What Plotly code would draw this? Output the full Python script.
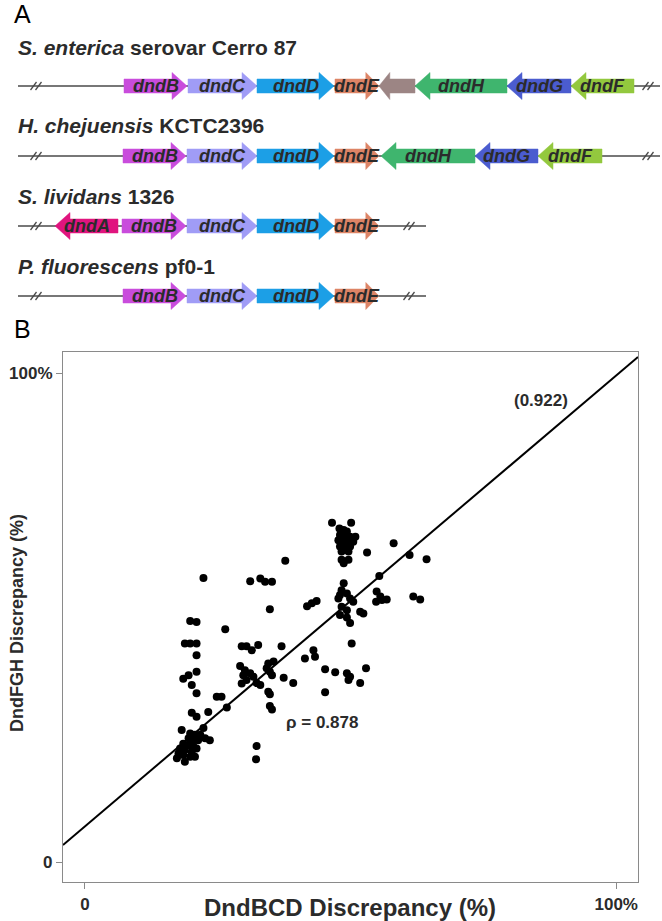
import plotly.graph_objects as go

# ---------------- Panel A data (gene schematic) ----------------
species_titles = [
    "<i>S. enterica</i> serovar Cerro 87",
    "<i>H. chejuensis</i> KCTC2396",
    "<i>S. lividans</i> 1326",
    "<i>P. fluorescens</i> pf0-1",
]
# genomic line extent and break marks (schematic units)
line_start = [18, 18, 18, 18]
line_end = [660, 660, 426, 426]
break_marks = [[36, 648], [36, 648], [36, 409], [36, 409]]

row0_genes = ["dndB", "dndC", "dndD", "dndE", "", "dndH", "dndG", "dndF"]
row0_start = [124, 188, 257, 335, 379, 415, 507, 571]
row0_end = [187, 257, 334, 379, 415, 507, 571, 634]
row0_strand = [1, 1, 1, 1, -1, -1, -1, -1]

row1_genes = ["dndB", "dndC", "dndD", "dndE", "dndH", "dndG", "dndF"]
row1_start = [123, 187, 257, 335, 381, 475, 538]
row1_end = [186, 257, 334, 379, 475, 538, 602]
row1_strand = [1, 1, 1, 1, -1, -1, -1]

row2_genes = ["dndA", "dndB", "dndC", "dndD", "dndE"]
row2_start = [55, 122, 187, 257, 335]
row2_end = [118, 186, 257, 334, 379]
row2_strand = [-1, 1, 1, 1, 1]

row3_genes = ["dndB", "dndC", "dndD", "dndE"]
row3_start = [123, 187, 257, 335]
row3_end = [186, 257, 334, 379]
row3_strand = [1, 1, 1, 1]

gene_colors = {
    "dndA": "#E0147F",
    "dndB": "#C94CDC",
    "dndC": "#A09CF6",
    "dndD": "#1C9FE6",
    "dndE": "#DD8466",
    "": "#9C8584",
    "dndH": "#3FB56E",
    "dndG": "#4B5CCF",
    "dndF": "#93C83E",
}

# ---------------- Panel B data (scatter) ----------------
dndbcd = [46.5, 50.1, 47.9, 48.7, 49.3, 48.0, 49.0, 49.9, 50.9, 47.7, 48.7, 49.6, 50.5,
          48.0, 49.0, 49.9, 48.3, 49.6, 48.3, 49.6, 48.7, 53.1, 58.1, 61.1, 64.3, 37.7,
          22.3, 31.1, 33.0, 33.9, 35.2, 55.4, 48.7, 48.3, 48.0, 49.3, 49.9, 47.7, 54.9,
          55.6, 55.9, 56.8, 54.8, 61.8, 63.1, 43.6, 42.7, 41.8, 34.8, 50.5, 48.3, 49.3,
          51.8, 52.4, 48.0, 49.3, 49.9, 19.8, 21.0, 26.4, 18.8, 19.8, 21.0, 29.5, 30.4,
          31.4, 32.6, 37.0, 50.2, 21.0, 41.4, 43.0, 43.3, 29.2, 30.1, 31.1, 29.8, 30.4,
          29.5, 31.7, 32.3, 33.0, 34.5, 35.5, 34.2, 34.8, 35.2, 37.4, 39.2, 45.2, 47.1,
          49.3, 49.9, 49.6, 51.8, 52.9, 18.5, 19.5, 21.0, 20.1, 21.0, 24.8, 25.7, 34.5,
          34.8, 45.2, 26.7, 34.8, 35.2, 20.1, 21.0, 23.2, 18.2, 22.3, 19.8, 20.7, 21.7,
          19.5, 20.4, 21.3, 22.6, 23.5, 18.5, 19.5, 20.4, 17.9, 18.8, 20.1, 21.0, 17.6,
          18.5, 19.8, 17.3, 20.7, 18.8, 32.3, 32.2]
dndfgh = [69.4, 69.4, 68.2, 67.9, 67.6, 66.9, 66.5, 66.5, 66.5, 65.8, 65.5, 65.5, 65.5,
          64.5, 64.5, 64.5, 63.5, 63.5, 61.8, 61.8, 61.1, 63.3, 65.2, 62.8, 61.9, 61.6,
          58.1, 57.4, 58.0, 57.3, 57.3, 58.5, 57.0, 55.6, 54.6, 54.9, 53.9, 53.9, 55.3,
          54.3, 53.6, 53.7, 53.2, 54.3, 53.7, 53.4, 52.9, 52.3, 51.7, 53.2, 52.2, 51.5,
          51.2, 50.8, 50.5, 50.0, 48.9, 49.3, 49.1, 47.6, 44.7, 44.7, 44.7, 44.1, 44.1,
          43.3, 44.4, 44.1, 44.7, 42.3, 41.6, 43.3, 42.0, 40.1, 39.2, 38.6, 38.2, 37.2,
          36.5, 37.9, 36.6, 36.2, 40.6, 41.0, 39.6, 38.9, 38.2, 37.7, 36.6, 39.4, 38.8,
          38.6, 37.9, 37.2, 36.6, 39.6, 37.5, 38.2, 38.9, 36.2, 34.5, 33.8, 33.8, 34.8,
          34.3, 34.7, 31.6, 31.9, 31.2, 30.5, 29.7, 30.7, 27.0, 27.4, 26.3, 26.0, 26.0,
          25.3, 24.9, 24.9, 25.3, 24.9, 24.2, 23.9, 23.6, 23.2, 22.9, 22.5, 23.2, 22.2,
          21.9, 21.5, 21.2, 21.5, 20.5, 23.7, 21.0]
fit_slope = 0.922
fit_intercept = 7.3
rho_text = "ρ = 0.878"
slope_text = "(0.922)"
x_tick_vals = [0, 100]
x_tick_text = ["0", "100%"]
y_tick_vals = [0, 100]
y_tick_text = ["0", "100%"]
x_title = "DndBCD Discrepancy (%)"
y_title = "DndFGH Discrepancy (%)"

# ---------------- layout constants ----------------
W, H = 662, 921
FONT = "Liberation Sans, Arial, sans-serif"
TXT = "#2b2b2b"
ROW_Y = [86, 156, 226, 296]
TITLE_Y = [47, 125, 196, 266]
BODY_H = 7
HEAD_H = 13.5
X_RANGE = [-4.14, 104.1]
Y_RANGE = [-4.09, 104.3]
PB_LEFT, PB_RIGHT, PB_BOTTOM, PB_TOP = 63, 638, 882, 352

fig = go.Figure()

rows = [
    (row0_genes, row0_start, row0_end, row0_strand),
    (row1_genes, row1_start, row1_end, row1_strand),
    (row2_genes, row2_start, row2_end, row2_strand),
    (row3_genes, row3_start, row3_end, row3_strand),
]

annotations = []
for i, (names, starts, ends, strands) in enumerate(rows):
    yc = ROW_Y[i]
    # backbone line
    fig.add_trace(go.Scatter(x=[line_start[i], line_end[i]], y=[yc, yc], mode="lines",
                             line=dict(color="#4a4a4a", width=1.5), xaxis="x2", yaxis="y2",
                             hoverinfo="skip", showlegend=False))
    # break marks
    for b in break_marks[i]:
        for off in (-2.5, 2.5):
            fig.add_trace(go.Scatter(x=[b + off - 3, b + off + 3], y=[yc + 4, yc - 4], mode="lines",
                                     line=dict(color="#4a4a4a", width=1.3), xaxis="x2", yaxis="y2",
                                     hoverinfo="skip", showlegend=False))
    # gene arrows
    for n, s, e, st in zip(names, starts, ends, strands):
        L = e - s
        hl = min(15, 0.3 * L)
        if st > 0:
            xs = [s, e - hl, e - hl, e, e - hl, e - hl, s, s]
        else:
            xs = [e, s + hl, s + hl, s, s + hl, s + hl, e, e]
        ys = [yc - BODY_H, yc - BODY_H, yc - HEAD_H, yc, yc + HEAD_H, yc + BODY_H, yc + BODY_H, yc - BODY_H]
        fig.add_trace(go.Scatter(x=xs, y=ys, mode="lines", fill="toself",
                                 fillcolor=gene_colors[n], line=dict(color=gene_colors[n], width=0.5),
                                 xaxis="x2", yaxis="y2", hoverinfo="skip", showlegend=False))
        if n:
            annotations.append(dict(x=(s + e) / 2, y=yc, xref="x2", yref="y2", text=f"<i>{n}</i>",
                                    showarrow=False, xanchor="center", yanchor="middle",
                                    font=dict(family=FONT, size=18, color=TXT, weight="bold")))
    annotations.append(dict(x=16, y=TITLE_Y[i], xref="x2", yref="y2", text=species_titles[i],
                            showarrow=False, xanchor="left", yanchor="middle",
                            font=dict(family=FONT, size=21, color=TXT, weight="bold")))

# ---------------- Panel B ----------------
fig.add_trace(go.Scatter(x=X_RANGE, y=[fit_intercept + fit_slope * v for v in X_RANGE], mode="lines",
                         line=dict(color="black", width=2), showlegend=False, hoverinfo="skip",
                         cliponaxis=True))
fig.add_trace(go.Scatter(x=dndbcd, y=dndfgh, mode="markers",
                         marker=dict(color="black", size=8), showlegend=False))

annotations += [
    dict(x=22, y=14, xref="x2", yref="y2", text="A", showarrow=False, xanchor="center", yanchor="middle",
         font=dict(family=FONT, size=25, color="black")),
    dict(x=22, y=329, xref="x2", yref="y2", text="B", showarrow=False, xanchor="center", yanchor="middle",
         font=dict(family=FONT, size=25, color="black")),
    dict(x=541 / W, y=1 - 400 / H, xref="paper", yref="paper", text=slope_text, showarrow=False,
         xanchor="center", yanchor="middle", font=dict(family=FONT, size=17, color=TXT, weight="bold")),
    dict(x=322 / W, y=1 - 722 / H, xref="paper", yref="paper", text=rho_text, showarrow=False,
         xanchor="center", yanchor="middle", font=dict(family=FONT, size=17, color=TXT, weight="bold")),
    dict(x=350 / W, y=1 - 907 / H, xref="paper", yref="paper", text=x_title, showarrow=False,
         xanchor="center", yanchor="middle", font=dict(family=FONT, size=24, color=TXT, weight="bold")),
    dict(x=17 / W, y=1 - 623 / H, xref="paper", yref="paper", text=y_title, showarrow=False, textangle=-90,
         xanchor="center", yanchor="middle", font=dict(family=FONT, size=18, color=TXT, weight="bold")),
]

axis_common = dict(showgrid=False, zeroline=False, showline=True, mirror=True, linecolor="#8a8a8a",
                   linewidth=1.2, ticks="outside", ticklen=6, tickcolor="#8a8a8a", tickwidth=1.2,
                   tickfont=dict(family=FONT, size=17, color=TXT, weight="bold"))

fig.update_layout(
    width=W, height=H, autosize=False, margin=dict(l=0, r=0, t=0, b=0),
    paper_bgcolor="white", plot_bgcolor="white", showlegend=False,
    xaxis=dict(domain=[PB_LEFT / W, PB_RIGHT / W], range=X_RANGE, tickvals=x_tick_vals,
               ticktext=x_tick_text, anchor="y", **axis_common),
    yaxis=dict(domain=[1 - PB_BOTTOM / H, 1 - PB_TOP / H], range=Y_RANGE, tickvals=y_tick_vals,
               ticktext=y_tick_text, anchor="x", **axis_common),
    xaxis2=dict(domain=[0, 1], range=[0, W], visible=False, anchor="y2", fixedrange=True),
    yaxis2=dict(domain=[1 - 340 / H, 1], range=[340, 0], visible=False, anchor="x2", fixedrange=True),
    annotations=annotations,
)

fig.write_html("out.html", config={"displayModeBar": False},
               post_script="document.body.style.margin='0';document.body.style.overflow='hidden';")
